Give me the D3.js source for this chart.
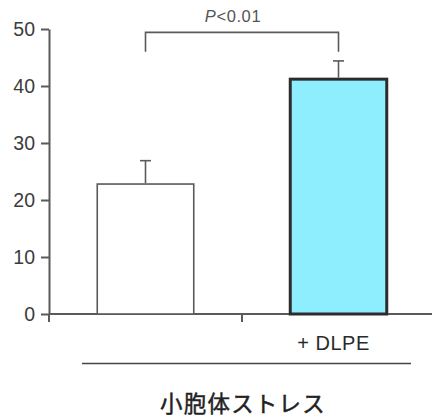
<!DOCTYPE html>
<html>
<head>
<meta charset="utf-8">
<script src="https://cdn.jsdelivr.net/npm/d3@7/dist/d3.min.js"></script>
<style>
  html, body { margin: 0; padding: 0; background: #fff; }
  svg { display: block; }
</style>
</head>
<body>
<div id="chart"></div>
<script>
// Group labels, means and SEM for the two conditions
const categories = ["control", "+ DLPE"];
const categoryLabels = ["", "+ DLPE"];
const means = [22.8, 41.2];
const errors = [4.1, 3.2];
const yTicks = [0, 10, 20, 30, 40, 50];
const pLabel = "P<0.01";
const bracketLevels = [49.4, 46.0];   // bracket top, bracket leg ends
const groupTitle = "小胞体ストレス";

const W = 432, H = 419;
const svg = d3.select("#chart").append("svg")
  .attr("width", W).attr("height", H);

const axisColor = "#5a5a5a";
const textColor = "#3c3c3c";

const y = d3.scaleLinear().domain([0, 50]).range([314, 29]);
const x = d3.scaleBand().domain(categories)
  .range([49, 435]).paddingInner(0.5).paddingOuter(0.25);

// Y axis
const yAxis = svg.append("g")
  .attr("transform", `translate(${x.range()[0]},0)`)
  .call(d3.axisLeft(y).tickValues(yTicks).tickSize(8).tickPadding(6).tickSizeOuter(0));
yAxis.select(".domain").attr("stroke", axisColor).attr("stroke-width", 2);
yAxis.selectAll(".tick line").attr("stroke", axisColor).attr("stroke-width", 2);
yAxis.selectAll(".tick text")
  .attr("fill", textColor)
  .style("font-family", "'Liberation Sans', Arial, sans-serif")
  .style("font-size", "19.5px");

// X axis: baseline with ticks at the group boundaries
const step = x.step();
const boundaries = [x.range()[0]].concat(categories.map((c, i) => x.range()[0] + step * (i + 1)));
const xAxis = svg.append("g").attr("transform", `translate(0,${y(0)})`);
xAxis.append("line")
  .attr("x1", x.range()[0]).attr("x2", W)
  .attr("stroke", axisColor).attr("stroke-width", 2);
xAxis.selectAll("line.tick").data(boundaries).join("line")
  .attr("class", "tick")
  .attr("x1", d => d).attr("x2", d => d)
  .attr("y1", 0).attr("y2", 8)
  .attr("stroke", axisColor).attr("stroke-width", 2);

// Bars
const fills = ["#ffffff", "#8feefe"];
const strokes = ["#5a5a5a", "#2c2c2c"];
const strokeW = [1.6, 3];
svg.selectAll("rect.bar").data(categories).join("rect")
  .attr("class", "bar")
  .attr("x", d => x(d))
  .attr("y", (d, i) => y(means[i]))
  .attr("width", x.bandwidth())
  .attr("height", (d, i) => y(0) - y(means[i]))
  .attr("fill", (d, i) => fills[i])
  .attr("stroke", (d, i) => strokes[i])
  .attr("stroke-width", (d, i) => strokeW[i]);

// Error bars (upper only)
const cx = d => x(d) + x.bandwidth() / 2;
const eg = svg.append("g").attr("stroke", axisColor).attr("stroke-width", 1.6);
categories.forEach((c, i) => {
  eg.append("line")
    .attr("x1", cx(c)).attr("x2", cx(c))
    .attr("y1", y(means[i]) - strokeW[i] / 2).attr("y2", y(means[i] + errors[i]));
  eg.append("line")
    .attr("x1", cx(c) - 5.5).attr("x2", cx(c) + 5.5)
    .attr("y1", y(means[i] + errors[i])).attr("y2", y(means[i] + errors[i]));
});

// Significance bracket
const bx1 = cx(categories[0]), bx2 = cx(categories[1]);
svg.append("path")
  .attr("d", `M${bx1},${y(bracketLevels[1])}V${y(bracketLevels[0])}H${bx2}V${y(bracketLevels[1])}`)
  .attr("fill", "none").attr("stroke", axisColor).attr("stroke-width", 1.6);
const pText = svg.append("text")
  .attr("x", (bx1 + bx2) / 2 - 9).attr("y", 21.5)
  .attr("text-anchor", "middle")
  .attr("fill", "#555")
  .style("font-family", "'Liberation Sans', Arial, sans-serif")
  .style("font-size", "16.5px")
  .style("letter-spacing", "0.6px");
pText.append("tspan").style("font-style", "italic").text(pLabel.slice(0, 1));
pText.append("tspan").text(pLabel.slice(1));

// Category labels
svg.selectAll("text.cat").data(categories).join("text")
  .attr("class", "cat")
  .attr("x", d => cx(d) - 5)
  .attr("y", 350)
  .attr("text-anchor", "middle")
  .attr("fill", "#2a2a2a")
  .style("font-family", "'Liberation Sans', Arial, sans-serif")
  .style("font-size", "20px")
  .style("letter-spacing", "0.5px")
  .text((d, i) => categoryLabels[i]);

// Group line and title (thin outline gives a medium weight)
svg.append("line")
  .attr("x1", 82).attr("x2", 411).attr("y1", 363.5).attr("y2", 363.5)
  .attr("stroke", "#444").attr("stroke-width", 1.6);
svg.append("text")
  .attr("x", 243).attr("y", 412)
  .attr("text-anchor", "middle")
  .attr("fill", "#222")
  .attr("stroke", "#222")
  .attr("stroke-width", 0.45)
  .style("font-family", "'Noto Sans CJK JP', sans-serif")
  .style("font-size", "22.5px")
  .style("letter-spacing", "1.2px")
  .text(groupTitle);
</script>
</body>
</html>
